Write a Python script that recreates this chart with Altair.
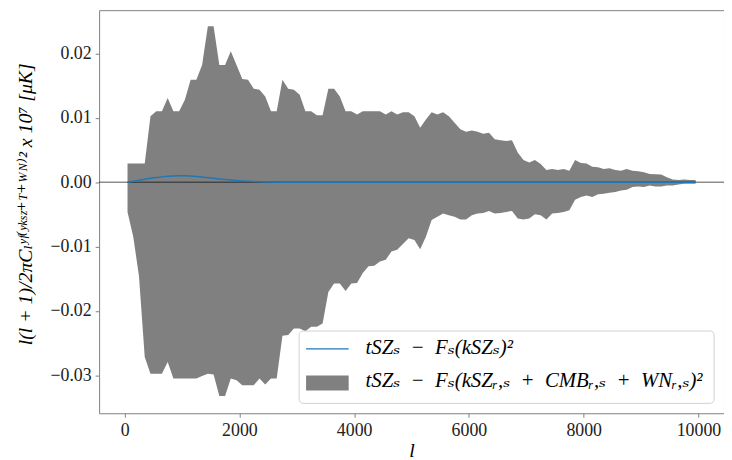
import altair as alt
import pandas as pd

# multipole bins
ells = [50 + 100 * i for i in range(100)]

upper = [0.00292, 0.00292, 0.00292, 0.00292, 0.01026, 0.01103, 0.01103, 0.01308, 0.01103, 0.01103,
         0.01282, 0.01590, 0.01590, 0.01821, 0.02421, 0.02421, 0.01821, 0.01821, 0.02036, 0.01821,
         0.01605, 0.01590, 0.01451, 0.01436, 0.01333, 0.01103, 0.01103, 0.01590, 0.01451, 0.01436,
         0.01359, 0.01103, 0.01103, 0.01041, 0.01041, 0.01451, 0.01451, 0.01333, 0.01103, 0.01103,
         0.01051, 0.01103, 0.01103, 0.01103, 0.01103, 0.01051, 0.01103, 0.01051, 0.01087, 0.01087,
         0.01026, 0.00846, 0.00974, 0.01087, 0.01051, 0.01087, 0.01026, 0.00923, 0.00821, 0.00785,
         0.00805, 0.00785, 0.00754, 0.00769, 0.00667, 0.00651, 0.00641, 0.00651, 0.00462, 0.00344,
         0.00308, 0.00344, 0.00282, 0.00190, 0.00205, 0.00190, 0.00205, 0.00179, 0.00344, 0.00297,
         0.00292, 0.00241, 0.00231, 0.00205, 0.00215, 0.00190, 0.00179, 0.00205, 0.00179, 0.00169,
         0.00154, 0.00128, 0.00123, 0.00118, 0.00077, 0.00041, 0.00036, 0.00041, 0.00036, 0.00036]

lower = [-0.00461, -0.00846, -0.01461, -0.02717, -0.02974, -0.02974, -0.02974, -0.02794, -0.03051, -0.03051,
         -0.03051, -0.03051, -0.03051, -0.03010, -0.02974, -0.02989, -0.03323, -0.03323, -0.03051, -0.03076,
         -0.03153, -0.03153, -0.03153, -0.03051, -0.03143, -0.03051, -0.03051, -0.02384, -0.02374, -0.02271,
         -0.02271, -0.02317, -0.02246, -0.02246, -0.02194, -0.01707, -0.01574, -0.01574, -0.01692, -0.01574,
         -0.01564, -0.01410, -0.01307, -0.01297, -0.01230, -0.01205, -0.01076, -0.01051, -0.00960, -0.00872,
         -0.00897, -0.01041, -0.00846, -0.00589, -0.00538, -0.00487, -0.00512, -0.00538, -0.00579, -0.00579,
         -0.00512, -0.00487, -0.00477, -0.00446, -0.00487, -0.00477, -0.00461, -0.00446, -0.00564, -0.00579,
         -0.00564, -0.00497, -0.00512, -0.00579, -0.00487, -0.00477, -0.00461, -0.00436, -0.00271, -0.00230,
         -0.00205, -0.00230, -0.00189, -0.00179, -0.00164, -0.00153, -0.00128, -0.00117, -0.00076, -0.00066,
         -0.00076, -0.00051, -0.00066, -0.00066, -0.00051, -0.00051, -0.00035, -0.00025, -0.00025, -0.00025]

mean = [0.00000, 0.00015, 0.00030, 0.00045, 0.00060, 0.00072, 0.00083, 0.00092, 0.00098, 0.00102,
        0.00100, 0.00095, 0.00088, 0.00080, 0.00070, 0.00060, 0.00050, 0.00041, 0.00033, 0.00026,
        0.00020, 0.00015, 0.00010, 0.00007, 0.00004, 0.00002] + [0.0] * 74

x_ticks = [0, 2000, 4000, 6000, 8000, 10000]
y_ticks = [-0.03, -0.02, -0.01, 0.00, 0.01, 0.02]

legend_labels = ["tSZₛ\u2002−\u2002Fₛ(kSZₛ)²",
                 "tSZₛ\u2002−\u2002Fₛ(kSZᵣ,ₛ\u2002+\u2002CMBᵣ,ₛ\u2002+\u2002WNᵣ,ₛ)²"]

y_title = "l(l + 1)/2πCₗʸᶠ⁽ʸᵏˢᶻ⁺ᵀ⁺ᵂᴺ⁾² x 10⁷ [μK]"

df = pd.DataFrame({"l": ells, "upper": upper, "lower": lower, "mean": mean})

W, H = 631, 407
xscale = alt.Scale(domain=[-445, 10445], nice=False, zero=False)
yscale = alt.Scale(domain=[-0.035892, 0.026723], nice=False, zero=False)

FONT = "'Liberation Serif', 'Times New Roman', 'DejaVu Serif', serif"
AX = "#808080"

xax = alt.Axis(values=x_ticks, format="d", title="l", titleFontStyle="italic",
               titleFont=FONT, titleFontSize=20, titleFontWeight="normal", titleColor="black",
               titlePadding=2, labelFont=FONT, labelFontSize=18, labelColor="#222",
               labelPadding=4, tickColor=AX, tickSize=4, domain=False, grid=False)
yax = alt.Axis(values=y_ticks, format=".2f", title=y_title, titleFontStyle="italic",
               titleFont=FONT, titleFontSize=20, titleFontWeight="normal", titleColor="black",
               titleX=-74, titleY=H / 2 - 8, titleAngle=-90, titleAlign="center",
               titleBaseline="middle",
               labelFont=FONT, labelFontSize=18, labelColor="#222", labelPadding=4,
               tickColor=AX, tickSize=4, domain=False, grid=False)

base = alt.Chart(df)

band = base.mark_area(color="#808080", opacity=1).encode(
    x=alt.X("l:Q", scale=xscale, axis=xax),
    y=alt.Y("lower:Q", scale=yscale, axis=yax),
    y2="upper:Q",
)

zero = alt.Chart(pd.DataFrame({"z": [0.0]})).mark_rule(color="black", opacity=0.45, strokeWidth=1.5).encode(
    y=alt.Y("z:Q", scale=yscale), x=alt.value(0), x2=alt.value(W)
)

line = base.mark_line(color="#1f77b4", strokeWidth=1.5).encode(
    x=alt.X("l:Q", scale=xscale),
    y=alt.Y("mean:Q", scale=yscale),
)

# legend box
leg_box = alt.Chart(pd.DataFrame({"a": [0]})).mark_rect(
    fill="white", fillOpacity=0.8, stroke="#d0d0d0", strokeWidth=1, cornerRadius=4
).encode(x=alt.value(202), x2=alt.value(621), y=alt.value(324), y2=alt.value(397))

leg_line = alt.Chart(pd.DataFrame({"a": [0]})).mark_rule(color="#1f77b4", strokeWidth=1.5).encode(
    x=alt.value(209), x2=alt.value(252), y=alt.value(342)
)
leg_patch = alt.Chart(pd.DataFrame({"a": [0]})).mark_rect(color="#808080").encode(
    x=alt.value(209), x2=alt.value(252), y=alt.value(369), y2=alt.value(384)
)
leg_text = alt.Chart(pd.DataFrame({"label": legend_labels, "yy": [347, 380]})).mark_text(
    font=FONT, fontSize=21, fontStyle="italic", align="left", baseline="alphabetic", color="black"
).encode(x=alt.value(269), y=alt.Y("yy:Q", scale=None), text="label:N")

chart = alt.layer(band, zero, line, leg_box, leg_line, leg_patch, leg_text).properties(
    width=W, height=H,
    autosize=alt.AutoSizeParams(type="none"),
    padding={"left": 92, "top": 0, "right": 0, "bottom": 45},
).configure_view(stroke=AX, strokeWidth=1)

chart.save("out.html", embed_options={"renderer": "svg", "actions": False})
